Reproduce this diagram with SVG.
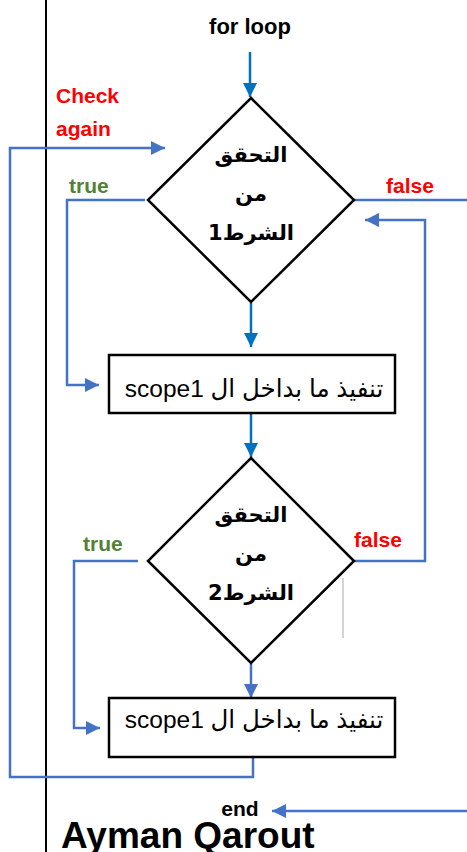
<svg xmlns="http://www.w3.org/2000/svg" width="467" height="852" viewBox="0 0 467 852">
<style>
.lat{font-family:"Liberation Sans","DejaVu Sans",sans-serif}
.ar{font-family:"DejaVu Sans","Noto Sans",sans-serif;font-weight:bold;font-size:21px}
.b{font-weight:bold}
.red{fill:#FF0000}
.grn{fill:#548235}
.shape{fill:#fff;stroke:#000;stroke-width:2.5}
.c1{fill:none;stroke:#0070C0;stroke-width:2.5}
.c2{fill:none;stroke:#4472C4;stroke-width:2.5}
</style>
<defs>
<marker id="a1" markerUnits="userSpaceOnUse" markerWidth="16" markerHeight="16" refX="14" refY="7" orient="auto"><path d="M0,0 L14,7 L0,14 Z" fill="#0070C0"/></marker>
<marker id="a2" markerUnits="userSpaceOnUse" markerWidth="16" markerHeight="16" refX="14" refY="7" orient="auto"><path d="M0,0 L14,7 L0,14 Z" fill="#4472C4"/></marker>
</defs>
<rect width="467" height="852" fill="#fff"/>
<line x1="46" y1="0" x2="46" y2="852" stroke="#000" stroke-width="2"/>
<line x1="343" y1="578" x2="343" y2="638" stroke="#aaa" stroke-width="1"/>

<g id="connectors">
<path class="c1" d="M250,52 V97" marker-end="url(#a1)"/>
<path class="c1" d="M251,303 V347" marker-end="url(#a1)"/>
<path class="c1" d="M251,413 V457" marker-end="url(#a1)"/>
<path class="c2" d="M251,664 V698" marker-end="url(#a2)"/>
<path class="c2" d="M253,757 V777 H10 V148 H165" marker-end="url(#a2)"/>
<path class="c2" d="M145,200 H67 V385 H99" marker-end="url(#a2)"/>
<path class="c2" d="M354,200 H467"/>
<path class="c2" d="M354,561 H425 V220 H365" marker-end="url(#a2)"/>
<path class="c2" d="M138,561 H74 V728 H100" marker-end="url(#a2)"/>
<path class="c2" d="M467,811 H272" marker-end="url(#a2)"/>
</g>

<g id="start"><text class="lat b" x="250" y="34" font-size="22" text-anchor="middle">for loop</text></g>

<g id="cond1">
<polygon class="shape" points="251,98 354,200 251,302 148,200"/>
<text class="ar" x="251" y="162" text-anchor="middle" direction="rtl">التحقق</text>
<text class="ar" x="251" y="201" text-anchor="middle" direction="rtl">من</text>
<text class="ar" x="251" y="240" text-anchor="middle" direction="rtl">الشرط1</text>
</g>

<g id="scope1a">
<rect class="shape" x="109" y="355" width="286" height="58"/>
<text class="lat" x="254" y="397" font-size="24.5" text-anchor="middle" direction="rtl">تنفيذ ما بداخل ال scope1</text>
</g>

<g id="cond2">
<polygon class="shape" points="251,458 354,561 251,663 148,561"/>
<text class="ar" x="251" y="522" text-anchor="middle" direction="rtl">التحقق</text>
<text class="ar" x="251" y="561" text-anchor="middle" direction="rtl">من</text>
<text class="ar" x="251" y="600" text-anchor="middle" direction="rtl">الشرط2</text>
</g>

<g id="scope1b">
<rect class="shape" x="109" y="698" width="286" height="59"/>
<text class="lat" x="254" y="728" font-size="24.5" text-anchor="middle" direction="rtl">تنفيذ ما بداخل ال scope1</text>
</g>

<g id="labels">
<text class="lat b red" x="56" y="103" font-size="21">Check</text>
<text class="lat b red" x="56" y="136" font-size="21">again</text>
<text class="lat b grn" x="69" y="193" font-size="21">true</text>
<text class="lat b red" x="386" y="193" font-size="21">false</text>
<text class="lat b grn" x="83" y="551" font-size="21">true</text>
<text class="lat b red" x="354" y="547" font-size="21">false</text>
</g>

<g id="end"><text class="lat b" x="240" y="816" font-size="21" text-anchor="middle">end</text></g>
<text class="lat b" x="61" y="848" font-size="37">Ayman Qarout</text>
</svg>
